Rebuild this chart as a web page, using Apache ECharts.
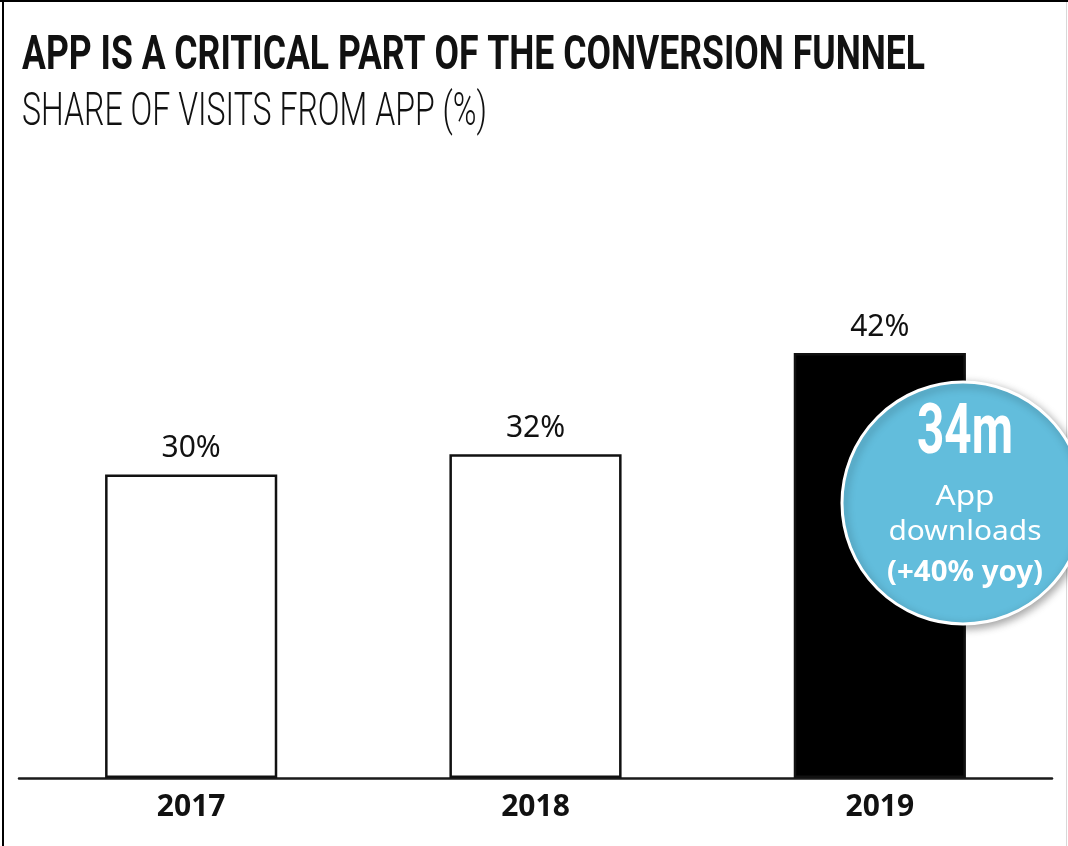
<!DOCTYPE html>
<html>
<head>
<meta charset="utf-8">
<script src="https://cdn.jsdelivr.net/npm/echarts@6/dist/echarts.min.js"></script>
<style>
  html, body { margin: 0; padding: 0; background: #fff; }
  #chart { width: 1068px; height: 846px; }
</style>
</head>
<body>
<div id="chart"></div>
<script>
// Share of visits coming from the app, by year
const years = ['2017', '2018', '2019'];
const appShare = [30, 32, 42];
const barFills = ['#ffffff', '#ffffff', '#000000'];

const titleText = 'APP IS A CRITICAL PART OF THE CONVERSION FUNNEL';
const subtitleText = 'SHARE OF VISITS FROM APP (%)';
const calloutLines = ['34m', 'App', 'downloads', '(+40% yoy)'];

const BLUE = '#62bddc';
const INK = '#111111';

// Measure text so condensed headings can be squeezed to their set width
const measureCtx = document.createElement('canvas').getContext('2d');
function textWidth(text, font) {
  measureCtx.font = font;
  return measureCtx.measureText(text).width;
}

function fittedText(text, font, x, y, width, align, fill, z) {
  const w = textWidth(text, font);
  return {
    type: 'text',
    x: x, y: y,
    scaleX: width / w,
    z: z || 10,
    style: {
      text: text, font: font, fill: fill,
      align: align, textAlign: align,
      verticalAlign: 'middle', textVerticalAlign: 'middle'
    }
  };
}

const titleFont = 'bold 49px Roboto';
const subFont = '300 47px Roboto';
const bigFont = 'bold 70px Roboto';
const smallFont = '28px "Noto Sans"';
const smallBold = 'bold 28px "Noto Sans"';

const cx = 963, cy = 503, r = 121;

const chart = echarts.init(document.getElementById('chart'), null, { renderer: 'canvas' });

chart.setOption({
  animation: false,
  backgroundColor: '#ffffff',
  grid: { left: 19, right: 16, top: 272, bottom: 68 },
  xAxis: {
    type: 'category',
    data: years,
    axisLine: { show: true, lineStyle: { color: '#1a1a1a', width: 2.5 } },
    axisTick: { show: false },
    axisLabel: {
      color: INK,
      fontFamily: 'Noto Sans',
      fontWeight: 'bold',
      fontSize: 30,
      margin: 14
    }
  },
  yAxis: {
    type: 'value',
    min: 0, max: 50,
    show: false,
    splitLine: { show: false }
  },
  series: [{
    type: 'bar',
    barWidth: '50%',
    data: appShare.map((v, i) => ({
      value: v,
      itemStyle: { color: barFills[i], borderColor: INK, borderWidth: 2.5 }
    })),
    label: {
      show: true,
      position: 'top',
      distance: 11,
      formatter: '{c}%',
      color: INK,
      fontFamily: 'Noto Sans',
      fontSize: 30
    }
  }],
  graphic: [
    // frame: top and left rules, faint right edge
    { type: 'rect', shape: { x: 0, y: 0, width: 1068, height: 2 }, style: { fill: '#000' }, z: 50 },
    { type: 'rect', shape: { x: 2, y: 0, width: 2, height: 846 }, style: { fill: '#000' }, z: 50 },
    { type: 'rect', shape: { x: 1066, y: 0, width: 1, height: 846 }, style: { fill: '#d8d8d8' }, z: 1 },

    fittedText(titleText, titleFont, 22, 57, 903, 'left', INK),
    fittedText(subtitleText, subFont, 22, 113, 465, 'left', INK),

    // app downloads callout
    {
      type: 'circle',
      z: 100,
      shape: { cx: cx, cy: cy, r: r },
      style: {
        fill: BLUE, stroke: '#ffffff', lineWidth: 3,
        shadowBlur: 8, shadowColor: 'rgba(0,0,0,0.35)',
        shadowOffsetX: 2, shadowOffsetY: 3
      }
    },
    fittedText(calloutLines[0], bigFont, 965, 435, 96, 'center', '#ffffff', 101),
    fittedText(calloutLines[1], smallFont, 965, 497, 59, 'center', '#ffffff', 101),
    fittedText(calloutLines[2], smallFont, 965, 532, 153, 'center', '#ffffff', 101),
    fittedText(calloutLines[3], smallBold, 965, 573, 156, 'center', '#ffffff', 101)
  ]
});
</script>
</body>
</html>
